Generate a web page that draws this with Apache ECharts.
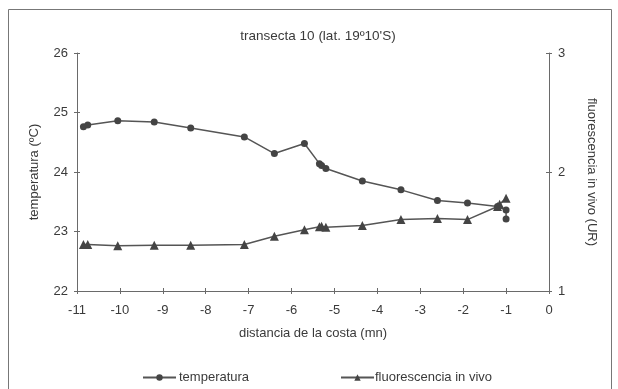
<!DOCTYPE html>
<html>
<head>
<meta charset="utf-8">
<script src="https://cdn.jsdelivr.net/npm/echarts@6/dist/echarts.min.js"></script>
<style>
html,body{margin:0;padding:0;background:#fff;}
#c{width:618px;height:389px;}
</style>
</head>
<body>
<div id="c"></div>
<script>
// distance from coast (mn) for each station
const temperaturaX = [-10.85,-10.75,-10.05,-9.2,-8.35,-7.1,-6.4,-5.7,-5.35,-5.3,-5.2,-4.35,-3.45,-2.6,-1.9,-1.2,-1.0,-1.0];
const temperaturaY = [24.76,24.79,24.86,24.84,24.74,24.59,24.31,24.48,24.14,24.11,24.06,23.85,23.70,23.52,23.48,23.42,23.36,23.21];
const fluorX = [-10.85,-10.75,-10.05,-9.2,-8.35,-7.1,-6.4,-5.7,-5.35,-5.3,-5.2,-4.35,-3.45,-2.6,-1.9,-1.2,-1.15,-1.0];
const fluorY = [1.39,1.39,1.38,1.385,1.385,1.39,1.46,1.515,1.54,1.545,1.535,1.55,1.60,1.61,1.60,1.71,1.73,1.78];
const xTicks = [-11,-10,-9,-8,-7,-6,-5,-4,-3,-2,-1,0];
const leftTicks = [22,23,24,25,26];
const rightTicks = [1,2,3];

const txt = '#3a3a3a';
const axisCol = '#6a6a6a';
const font = 'Liberation Sans, Arial, sans-serif';
const fs = 13;

const chart = echarts.init(document.getElementById('c'), null, {renderer:'canvas'});

function xAx(main){
  return {
    type:'value', min:xTicks[0], max:xTicks[xTicks.length-1], interval:1, position:'bottom',
    name: main ? 'distancia de la costa (mn)' : '',
    nameLocation:'middle', nameGap:36,
    nameTextStyle:{color:txt, fontSize:fs, fontFamily:font},
    axisLine:{show:main, onZero:false, lineStyle:{color:axisCol, width:1}},
    axisTick:{show:true, inside:!main, length:3, lineStyle:{color:axisCol}},
    axisLabel:{show:main, color:txt, fontSize:fs, fontFamily:font, margin:13},
    splitLine:{show:false}
  };
}
function yAx(main, side, min, max, name){
  return {
    type:'value', min:min, max:max, interval:1, position:side,
    name: main ? name : '',
    nameLocation:'middle', nameGap:36, nameRotate: side==='left'?90:-90,
    nameTextStyle:{color:txt, fontSize:fs, fontFamily:font},
    axisLine:{show:main, onZero:false, lineStyle:{color:axisCol, width:1}},
    axisTick:{show:true, inside:!main, length:3, lineStyle:{color:axisCol}},
    axisLabel:{show:main, color:txt, fontSize:fs, fontFamily:font, margin:9},
    splitLine:{show:false}
  };
}

const tempData = temperaturaX.map((x,i)=>[x, temperaturaY[i]]);
const fluorData = fluorX.map((x,i)=>[x, fluorY[i]]);

chart.setOption({
  animation:false,
  backgroundColor:'#fff',
  title:{
    text:"transecta 10 (lat. 19º10'S)", left:313, top:24, textAlign:'center',
    textStyle:{color:txt, fontSize:13.5, fontWeight:'normal', fontFamily:font}
  },
  graphic:[{
    type:'rect', shape:{x:8.5, y:9.5, width:603, height:390},
    style:{fill:'none', stroke:'#777', lineWidth:1}
  }],
  grid:{left:77, right:69, top:53, bottom:98, containLabel:false},
  legend:[
    {data:['temperatura'], left:137, top:366, itemWidth:33, itemHeight:8, itemGap:4,
     textStyle:{color:txt, fontSize:fs, fontFamily:font, padding:[0,0,0,-2]}},
    {data:['fluorescencia in vivo'], left:335, top:366, itemWidth:33, itemHeight:8, itemGap:4,
     textStyle:{color:txt, fontSize:fs, fontFamily:font, padding:[0,0,0,-4]}}
  ],
  xAxis:[xAx(true), xAx(false)],
  yAxis:[
    yAx(true,'left',leftTicks[0],leftTicks[leftTicks.length-1],'temperatura (ºC)'),
    yAx(true,'right',rightTicks[0],rightTicks[rightTicks.length-1],'fluorescencia in vivo (UR)'),
    yAx(false,'left',leftTicks[0],leftTicks[leftTicks.length-1],''),
    yAx(false,'right',rightTicks[0],rightTicks[rightTicks.length-1],'')
  ],
  series:[
    {name:'temperatura', type:'line', xAxisIndex:0, yAxisIndex:0, data:tempData,
     symbol:'circle', symbolSize:7,
     lineStyle:{color:'#555', width:1.5}, itemStyle:{color:'#444'}},
    {name:'fluorescencia in vivo', type:'line', xAxisIndex:0, yAxisIndex:1, data:fluorData,
     symbol:'triangle', symbolSize:9,
     lineStyle:{color:'#555', width:1.5}, itemStyle:{color:'#444'}}
  ]
});
</script>
</body>
</html>
